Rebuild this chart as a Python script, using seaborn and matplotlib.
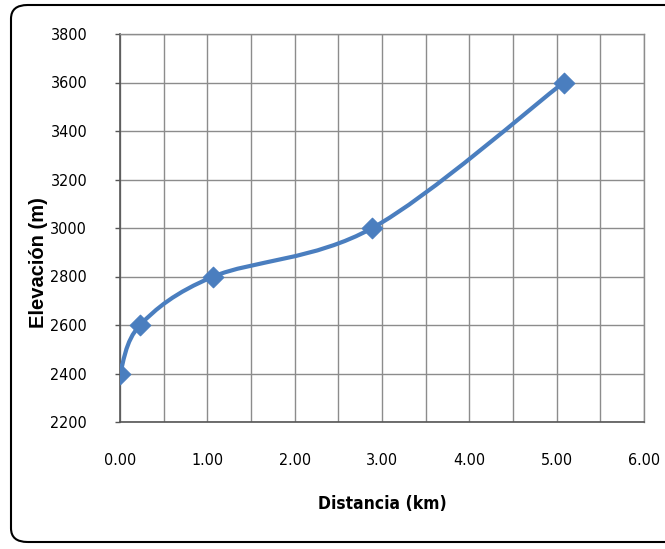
import numpy as np
import pandas as pd
import matplotlib
matplotlib.use("Agg")
import matplotlib.pyplot as plt
import seaborn as sns
from matplotlib.path import Path
from matplotlib.patches import PathPatch, FancyBboxPatch
from matplotlib.ticker import MultipleLocator, FixedLocator

distancia = [0.00, 0.23, 1.07, 2.89, 5.08]
elevacion = [2400, 2600, 2800, 3000, 3600]
x_ticks = [0, 1, 2, 3, 4, 5, 6]
y_ticks = [2200, 2400, 2600, 2800, 3000, 3200, 3400, 3600, 3800]

sns.set_theme(style="white")
plt.rcParams['font.family'] = ['DejaVu Sans']
plt.rcParams['font.stretch'] = 'condensed'

fig = plt.figure(figsize=(6.65, 5.49), dpi=100)
ax = fig.add_axes([120/665, 1 - 422/549, (644-120)/665, (422-34)/549])

color = "#4A7EBF"
df = pd.DataFrame({"x": distancia, "y": elevacion})

# smooth (Excel-like) curve through the data points
pts = df[["x", "y"]].to_numpy(dtype=float)
n = len(pts)
verts = [tuple(pts[0])]
codes = [Path.MOVETO]
for i in range(n - 1):
    p0 = pts[max(i - 1, 0)]
    p1 = pts[i]
    p2 = pts[i + 1]
    p3 = pts[min(i + 2, n - 1)]
    c1 = p1 + (p2 - p0) / 6.0
    c2 = p2 - (p3 - p1) / 6.0
    verts += [tuple(c1), tuple(c2), tuple(p2)]
    codes += [Path.CURVE4] * 3
ax.add_patch(PathPatch(Path(verts, codes), facecolor="none", edgecolor=color,
                       lw=3.0, capstyle="round", joinstyle="round", zorder=3))

sns.scatterplot(data=df, x="x", y="y", marker="D", s=110, color=color,
                edgecolor=color, ax=ax, zorder=4)

ax.set_xlim(0, 6)
ax.set_ylim(2200, 3800)
ax.xaxis.set_major_locator(FixedLocator(x_ticks))
ax.xaxis.set_minor_locator(MultipleLocator(0.5))
ax.yaxis.set_major_locator(FixedLocator(y_ticks))
ax.set_xticklabels([f"{v:.2f}" for v in x_ticks])
ax.set_yticklabels([str(v) for v in y_ticks])
ax.grid(True, which="both", axis="x", color="#8c8c8c", lw=1)
ax.grid(True, which="major", axis="y", color="#8c8c8c", lw=1)
ax.set_axisbelow(True)

for s in ["left", "bottom"]:
    ax.spines[s].set_color("#555555")
    ax.spines[s].set_linewidth(1.2)
for s in ["top", "right"]:
    ax.spines[s].set_color("#8c8c8c")
    ax.spines[s].set_linewidth(1)

ax.tick_params(axis="y", which="major", left=True, length=3.6, width=1,
               color="#555555", pad=20, labelsize=11.5, labelcolor="black")
ax.tick_params(axis="x", which="both", bottom=False, length=0, pad=22,
               labelsize=11.5, labelcolor="black")

ax.set_xlabel("Distancia (km)", fontsize=12.5, fontweight="bold", labelpad=20,
              color="black")
ax.set_ylabel("Elevación (m)", fontsize=14.5, fontweight="bold", color="black",
              family=['Liberation Sans', 'DejaVu Sans'], fontstretch='normal')
ax.yaxis.set_label_coords(-0.138, 0.41)

border = FancyBboxPatch((11/665, 7/549), 700/665, 537/549,
                        boxstyle="round,pad=0,rounding_size=0.025",
                        transform=fig.transFigure, facecolor="none",
                        edgecolor="black", lw=1.5, clip_on=False)
fig.patches.append(border)

fig.savefig("out.png", dpi=100)
